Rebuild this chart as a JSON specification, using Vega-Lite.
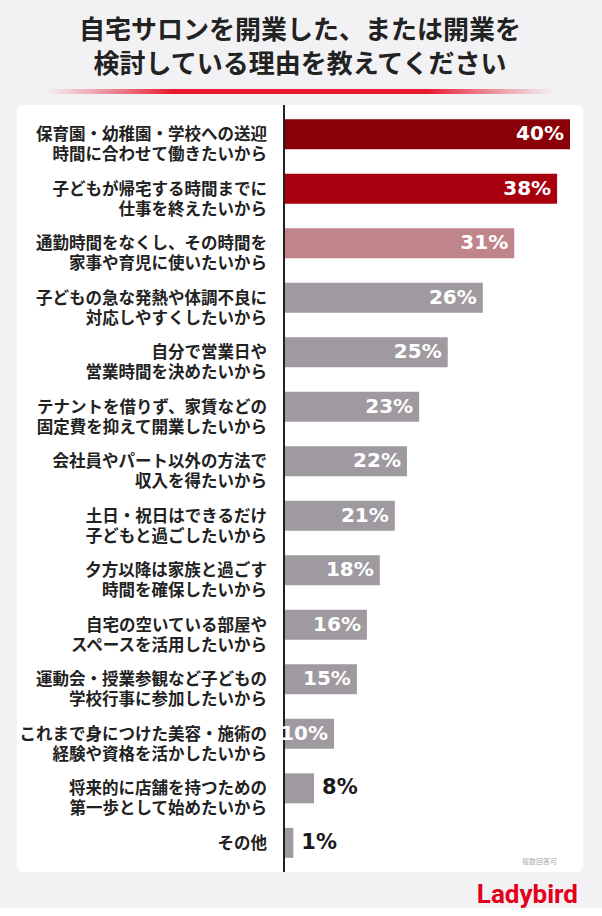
{
  "$schema": "https://vega.github.io/schema/vega-lite/v6.json",
  "background": "#f2f1f4",
  "padding": {"left": 17, "top": 18, "right": 19, "bottom": 0},
  "config": {"view": {"stroke": null}, "font": "Noto Sans CJK JP"},
  "spacing": 10,
  "center": true,
  "vconcat": [
    {
      "width": 510,
      "height": 5,
      "title": {
        "text": ["自宅サロンを開業した、または開業を", "検討している理由を教えてください"],
        "fontSize": 26,
        "fontWeight": "bold",
        "lineHeight": 34,
        "color": "#222222",
        "anchor": "middle",
        "offset": 11,
        "font": "Noto Sans CJK JP"
      },
      "data": {"values": [{"from": 0, "to": 1}]},
      "mark": {
        "type": "rect",
        "color": {
          "gradient": "linear",
          "x1": 0, "x2": 1, "y1": 0, "y2": 0,
          "stops": [
            {"offset": 0, "color": "rgba(235,60,80,0)"},
            {"offset": 0.25, "color": "#e8192f"},
            {"offset": 0.75, "color": "#e8192f"},
            {"offset": 1, "color": "rgba(235,60,80,0)"}
          ]
        }
      },
      "encoding": {
        "x": {"field": "from", "type": "quantitative", "scale": {"domain": [0, 1]}, "axis": null},
        "x2": {"field": "to"}
      }
    },
    {
      "width": 566,
      "height": 767,
      "view": {"fill": "white", "cornerRadius": 6, "stroke": null},
      "title": {
        "text": "Ladybird",
        "orient": "bottom",
        "anchor": "end",
        "fontSize": 26,
        "fontWeight": "bold",
        "color": "#e2001d",
        "font": "Roboto",
        "offset": 9,
        "dx": -5
      },
      "data": {
        "values": [
          {"reason": "保育園・幼稚園・学校への送迎\n時間に合わせて働きたいから", "pct": 40, "bar": 40.0, "group": "1位"},
          {"reason": "子どもが帰宅する時間までに\n仕事を終えたいから", "pct": 38, "bar": 38.2, "group": "2位"},
          {"reason": "通勤時間をなくし、その時間を\n家事や育児に使いたいから", "pct": 31, "bar": 32.2, "group": "3位"},
          {"reason": "子どもの急な発熱や体調不良に\n対応しやすくしたいから", "pct": 26, "bar": 27.8, "group": "4位以下"},
          {"reason": "自分で営業日や\n営業時間を決めたいから", "pct": 25, "bar": 22.9, "group": "4位以下"},
          {"reason": "テナントを借りず、家賃などの\n固定費を抑えて開業したいから", "pct": 23, "bar": 18.9, "group": "4位以下"},
          {"reason": "会社員やパート以外の方法で\n収入を得たいから", "pct": 22, "bar": 17.2, "group": "4位以下"},
          {"reason": "土日・祝日はできるだけ\n子どもと過ごしたいから", "pct": 21, "bar": 15.5, "group": "4位以下"},
          {"reason": "夕方以降は家族と過ごす\n時間を確保したいから", "pct": 18, "bar": 13.4, "group": "4位以下"},
          {"reason": "自宅の空いている部屋や\nスペースを活用したいから", "pct": 16, "bar": 11.6, "group": "4位以下"},
          {"reason": "運動会・授業参観など子どもの\n学校行事に参加したいから", "pct": 15, "bar": 10.2, "group": "4位以下"},
          {"reason": "これまで身につけた美容・施術の\n経験や資格を活かしたいから", "pct": 10, "bar": 7.0, "group": "4位以下"},
          {"reason": "将来的に店舗を持つための\n第一歩として始めたいから", "pct": 8, "bar": 4.2, "group": "4位以下"},
          {"reason": "その他", "pct": 1, "bar": 1.3, "group": "4位以下"}
        ]
      },
      "transform": [{"calculate": "datum.pct + '%'", "as": "pctLabel"}],
      "layer": [
        {
          "mark": {"type": "bar"},
          "encoding": {
            "y": {"field": "reason", "type": "nominal", "sort": null, "axis": null, "scale": {"paddingInner": 0.45, "paddingOuter": 0.26}},
            "x": {"field": "bar", "type": "quantitative", "scale": {"domain": [-37.34, 41.82], "nice": false, "zero": false}, "axis": null},
            "x2": {"datum": 0},
            "color": {
              "field": "group",
              "type": "nominal",
              "scale": {"domain": ["1位", "2位", "3位", "4位以下"], "range": ["#8a0008", "#a8000f", "#c0848b", "#9e9a9f"]},
              "legend": null
            }
          }
        },
        {
          "mark": {"type": "rule", "color": "#222222", "strokeWidth": 1.5},
          "encoding": {"x": {"datum": 0}}
        },
        {
          "transform": [{"filter": "datum.pct >= 10"}],
          "mark": {"type": "text", "align": "right", "baseline": "middle", "dx": -6, "color": "white", "font": "DejaVu Sans", "fontWeight": "bold", "fontSize": 20},
          "encoding": {
            "y": {"field": "reason", "type": "nominal", "sort": null},
            "x": {"field": "bar", "type": "quantitative"},
            "text": {"field": "pctLabel"}
          }
        },
        {
          "transform": [{"filter": "datum.pct < 10"}],
          "mark": {"type": "text", "align": "left", "baseline": "middle", "dx": 8, "color": "#1a1a1a", "font": "DejaVu Sans", "fontWeight": "bold", "fontSize": 21},
          "encoding": {
            "y": {"field": "reason", "type": "nominal", "sort": null},
            "x": {"field": "bar", "type": "quantitative"},
            "text": {"field": "pctLabel"}
          }
        },
        {
          "mark": {"type": "text", "align": "right", "baseline": "middle", "dx": -17, "dy": 1, "lineBreak": "\n", "lineHeight": 20, "fontSize": 16.5, "fontWeight": "bold", "color": "#222222", "font": "Noto Sans CJK JP"},
          "encoding": {
            "y": {"field": "reason", "type": "nominal", "sort": null},
            "x": {"datum": 0},
            "text": {"field": "reason"}
          }
        },
        {
          "transform": [{"filter": "datum.pct == 1"}],
          "mark": {"type": "text", "align": "right", "baseline": "middle", "dx": -13, "dy": 19, "fontSize": 7, "color": "#aaaaaa", "text": "複数回答可"},
          "encoding": {
            "y": {"field": "reason", "type": "nominal", "sort": null},
            "x": {"datum": 40}
          }
        }
      ]
    }
  ]
}
